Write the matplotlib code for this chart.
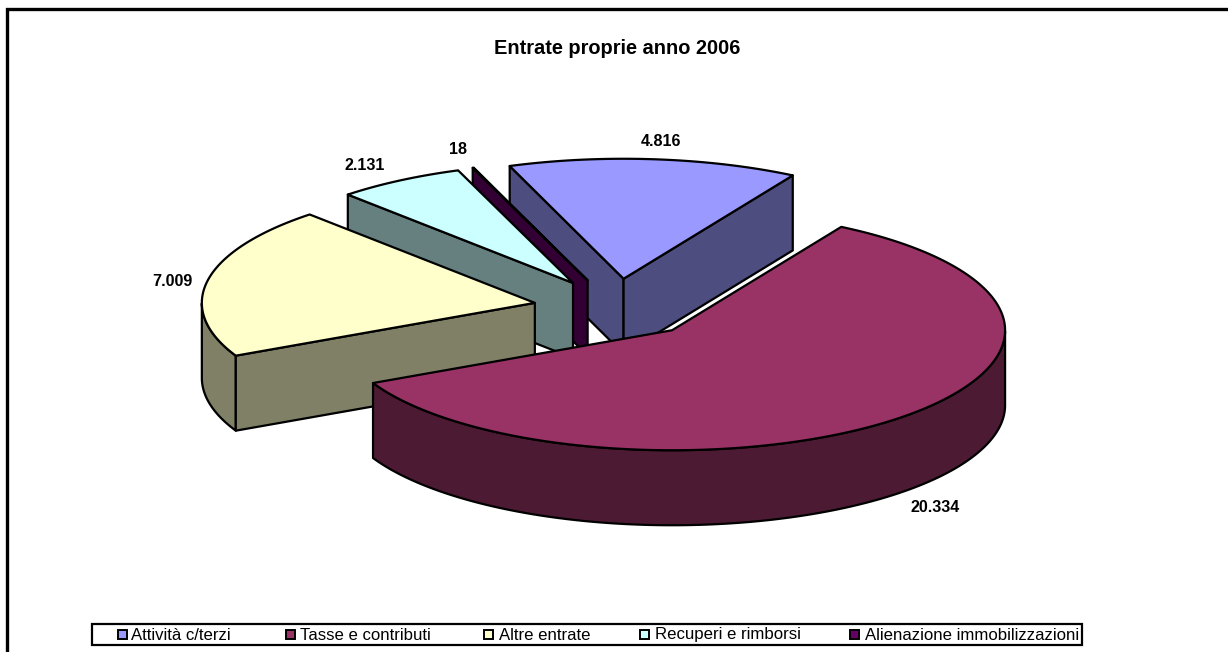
#!/usr/bin/env python3
"""
Entrate proprie anno 2006 - exploded 3D pie drawn with plain polygons.
"""

import matplotlib
matplotlib.use("Agg")
import matplotlib.pyplot as plt
import numpy as np
from matplotlib.patches import Polygon, Rectangle

categories = ["Attività c/terzi", "Tasse e contributi", "Altre entrate",
              "Recuperi e rimborsi", "Alienazione immobilizzazioni"]
values = [4816, 20334, 7009, 2131, 18]
title = "Entrate proprie anno 2006"

top_colors = ["#9999FF", "#993366", "#FFFFCC", "#CCFFFF", "#660066"]
side_colors = ["#4D4D80", "#4D1A33", "#808066", "#668080", "#330033"]

# pie geometry, in pixels of the picture
CX, CY = 616, 308.4
RX, RY = 333, 120
DEPTH = 75
EXPLODE = 0.248
START_ANGLE = 110

# back to front
draw_order = [0, 4, 3, 2, 1]
label_xy = [(661, 142), (935, 508), (172, 282), (365, 166), (458, 149)]
legend_handle_x = [118, 286, 484, 640, 850]
legend_text_x = [131, 300, 499, 655, 865]

plt.rcParams["font.family"] = ["Liberation Sans", "DejaVu Sans"]

fig = plt.figure(figsize=(12.28, 6.52), dpi=100)
ax = fig.add_axes([0, 0, 1, 1])
ax.set_xlim(0, 1228)
ax.set_ylim(652, 0)
ax.axis("off")


def project(angle, apex):
    rad = np.radians(angle)
    return np.column_stack([apex[0] + RX * np.cos(rad), apex[1] - RY * np.sin(rad)])


def draw_slice(i, start, stop):
    mid = np.radians((start + stop) / 2)
    apex = (CX + EXPLODE * RX * np.cos(mid), CY - EXPLODE * RY * np.sin(mid))
    angles = np.linspace(start, stop, 200)
    arc = project(angles, apex)
    style = dict(edgecolor="black", linewidth=1.6, joinstyle="round")

    # outer rim, only the part facing the viewer
    front = angles[np.sin(np.radians(angles)) <= 0]
    if len(front) > 1:
        rim = project(front, apex)
        ax.add_patch(Polygon(np.vstack([rim, rim[::-1] + [0, DEPTH]]),
                             facecolor=side_colors[i], **style))

    # cut faces, only when they turn towards the viewer
    if np.cos(np.radians(start)) < 0:
        ends = [arc[0]]
    else:
        ends = []
    if np.cos(np.radians(stop)) > 0:
        ends.append(arc[-1])
    for end in ends:
        wall = [apex, end, end + [0, DEPTH], (apex[0], apex[1] + DEPTH)]
        ax.add_patch(Polygon(wall, facecolor=side_colors[i], **style))

    # top face
    ax.add_patch(Polygon(np.vstack([[apex], arc]), facecolor=top_colors[i], **style))


total = sum(values)
edges = START_ANGLE - np.cumsum([0] + values) / total * 360
for i in draw_order:
    draw_slice(i, edges[i], edges[i + 1])

# frame of the chart area: only top and left are in the picture
ax.plot([6.5, 6.5, 1228], [652, 8.5, 8.5], color="black", linewidth=2.4,
        solid_joinstyle="miter")

ax.text(617, 48, title, ha="center", va="center", fontsize=14.4, fontweight="bold")

for value, (x, y) in zip(values, label_xy):
    text = f"{value:,}".replace(",", ".")
    ax.text(x, y, text, ha="center", va="center", fontsize=11.6, fontweight="bold")

# legend
ax.add_patch(Rectangle((91.5, 624), 990, 21, facecolor="white", edgecolor="black",
                       linewidth=1.6))
for i, name in enumerate(categories):
    ax.add_patch(Rectangle((legend_handle_x[i], 630), 9, 9, facecolor=top_colors[i],
                           edgecolor="black", linewidth=1.4))
    ax.text(legend_text_x[i], 635, name, ha="left", va="center", fontsize=12.1)

fig.savefig("out.png", dpi=100)
